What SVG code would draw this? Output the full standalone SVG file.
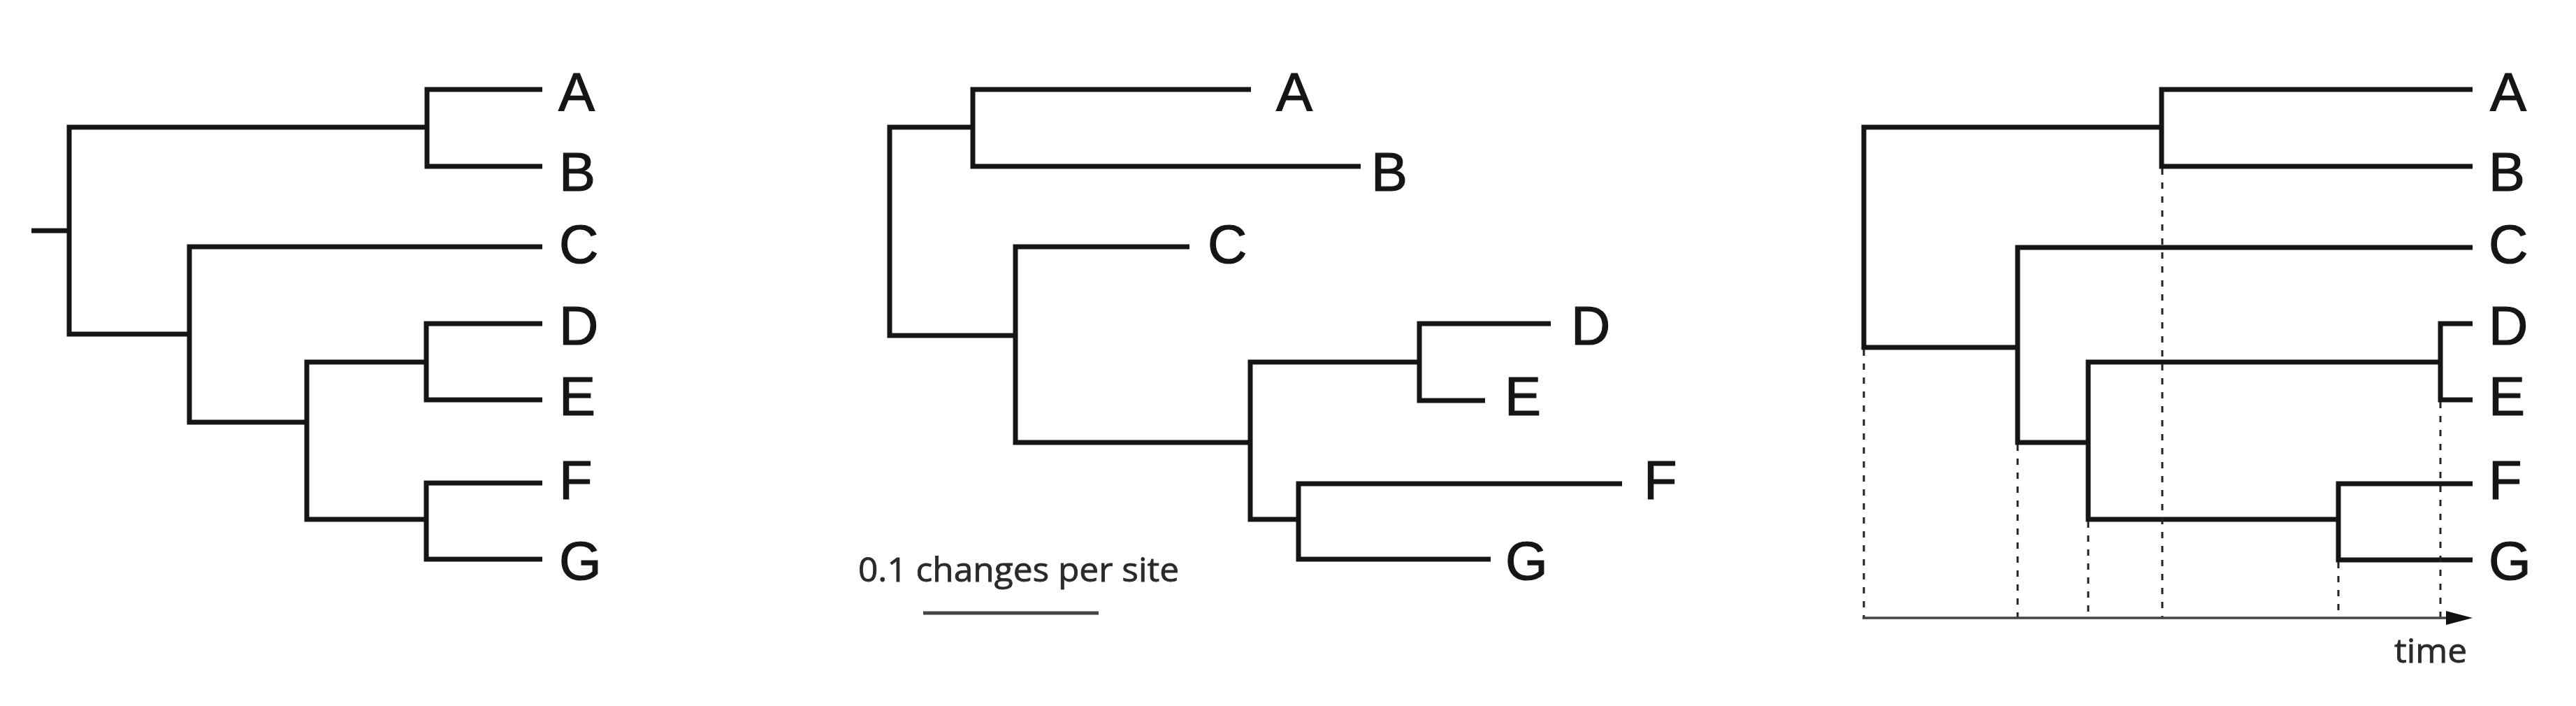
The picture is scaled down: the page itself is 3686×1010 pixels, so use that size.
<svg xmlns="http://www.w3.org/2000/svg" width="3686" height="1010" viewBox="0 0 3686 1010">
<style>
.br{fill:none;stroke:#151515;stroke-width:7;stroke-linejoin:miter;stroke-linecap:butt}
.dash{fill:none;stroke:#222;stroke-width:3;stroke-dasharray:9 11}
.lab{font-family:"Liberation Sans",Arial,sans-serif;font-size:78px;fill:#151515;stroke:#151515;stroke-width:1.2}
.small{font-family:"Open Sans","Liberation Sans",sans-serif;font-size:48px;fill:#2a2a2a;stroke:#2a2a2a;stroke-width:0.8}
</style>
<rect width="3686" height="1010" fill="#fff"/>
<g id="connectors">
  <g id="tree1-branches">
    <path class="br" d="M45 330 H99"/>
    <path class="br" d="M611 182 H99 V478 H271"/>
    <path class="br" d="M776 128 H611 V238 H776"/>
    <path class="br" d="M776 353 H271 V604 H439"/>
    <path class="br" d="M610 518 H439 V743 H610"/>
    <path class="br" d="M776 463 H610 V572 H776"/>
    <path class="br" d="M776 691 H610 V800 H776"/>
  </g>
  <g id="tree2-branches">
    <path class="br" d="M1392 182 H1273 V480 H1453"/>
    <path class="br" d="M1790 128 H1392 V238 H1947"/>
    <path class="br" d="M1702 353 H1453 V633 H1789"/>
    <path class="br" d="M2031 518 H1789 V743 H1858"/>
    <path class="br" d="M2219 463 H2031 V573 H2125"/>
    <path class="br" d="M2321 692 H1858 V800 H2133"/>
  </g>
  <g id="tree3-branches">
    <path class="br" d="M3093 182 H2667 V497 H2887"/>
    <path class="br" d="M3538 128 H3093 V238 H3538"/>
    <path class="br" d="M3538 354 H2887 V633 H2988"/>
    <path class="br" d="M3492 518 H2988 V743 H3346"/>
    <path class="br" d="M3538 463 H3492 V572 H3538"/>
    <path class="br" d="M3538 692 H3346 V801 H3538"/>
  </g>
  <g id="tree3-dashes">
    <path class="dash" d="M2667 500 V884"/>
    <path class="dash" d="M2887 636 V884"/>
    <path class="dash" d="M2988 746 V884"/>
    <path class="dash" d="M3094 241 V884"/>
    <path class="dash" d="M3346 804 V884"/>
    <path class="dash" d="M3492 575 V884"/>
  </g>
</g>
<g id="tree1-labels">
  <g id="t1-A"><text class="lab" x="799" y="159">A</text></g>
  <g id="t1-B"><text class="lab" x="800" y="273">B</text></g>
  <g id="t1-C"><text class="lab" x="800" y="376">C</text></g>
  <g id="t1-D"><text class="lab" x="800" y="493">D</text></g>
  <g id="t1-E"><text class="lab" x="800" y="594">E</text></g>
  <g id="t1-F"><text class="lab" x="800" y="714">F</text></g>
  <g id="t1-G"><text class="lab" x="800" y="829">G</text></g>
</g>
<g id="tree2-labels">
  <g id="t2-A"><text class="lab" x="1826" y="159">A</text></g>
  <g id="t2-B"><text class="lab" x="1962" y="273">B</text></g>
  <g id="t2-C"><text class="lab" x="1728" y="376">C</text></g>
  <g id="t2-D"><text class="lab" x="2248" y="493">D</text></g>
  <g id="t2-E"><text class="lab" x="2153" y="594">E</text></g>
  <g id="t2-F"><text class="lab" x="2352" y="714">F</text></g>
  <g id="t2-G"><text class="lab" x="2154" y="829">G</text></g>
</g>
<g id="scale-bar">
  <text class="small" x="1228" y="832" textLength="459" lengthAdjust="spacingAndGlyphs">0.1 changes per site</text>
  <line x1="1321" y1="877" x2="1572" y2="877" stroke="#444" stroke-width="5"/>
</g>
<g id="tree3-labels">
  <g id="t3-A"><text class="lab" x="3563" y="159">A</text></g>
  <g id="t3-B"><text class="lab" x="3561" y="273">B</text></g>
  <g id="t3-C"><text class="lab" x="3561" y="376">C</text></g>
  <g id="t3-D"><text class="lab" x="3561" y="493">D</text></g>
  <g id="t3-E"><text class="lab" x="3561" y="594">E</text></g>
  <g id="t3-F"><text class="lab" x="3561" y="714">F</text></g>
  <g id="t3-G"><text class="lab" x="3561" y="829">G</text></g>
</g>
<g id="time-axis">
  <line x1="2665" y1="884" x2="3504" y2="884" stroke="#444" stroke-width="3.5"/>
  <polygon points="3500,874 3538,884 3500,894" fill="#111"/>
  <text class="small" x="3426" y="948" textLength="104" lengthAdjust="spacingAndGlyphs">time</text>
</g>
</svg>
